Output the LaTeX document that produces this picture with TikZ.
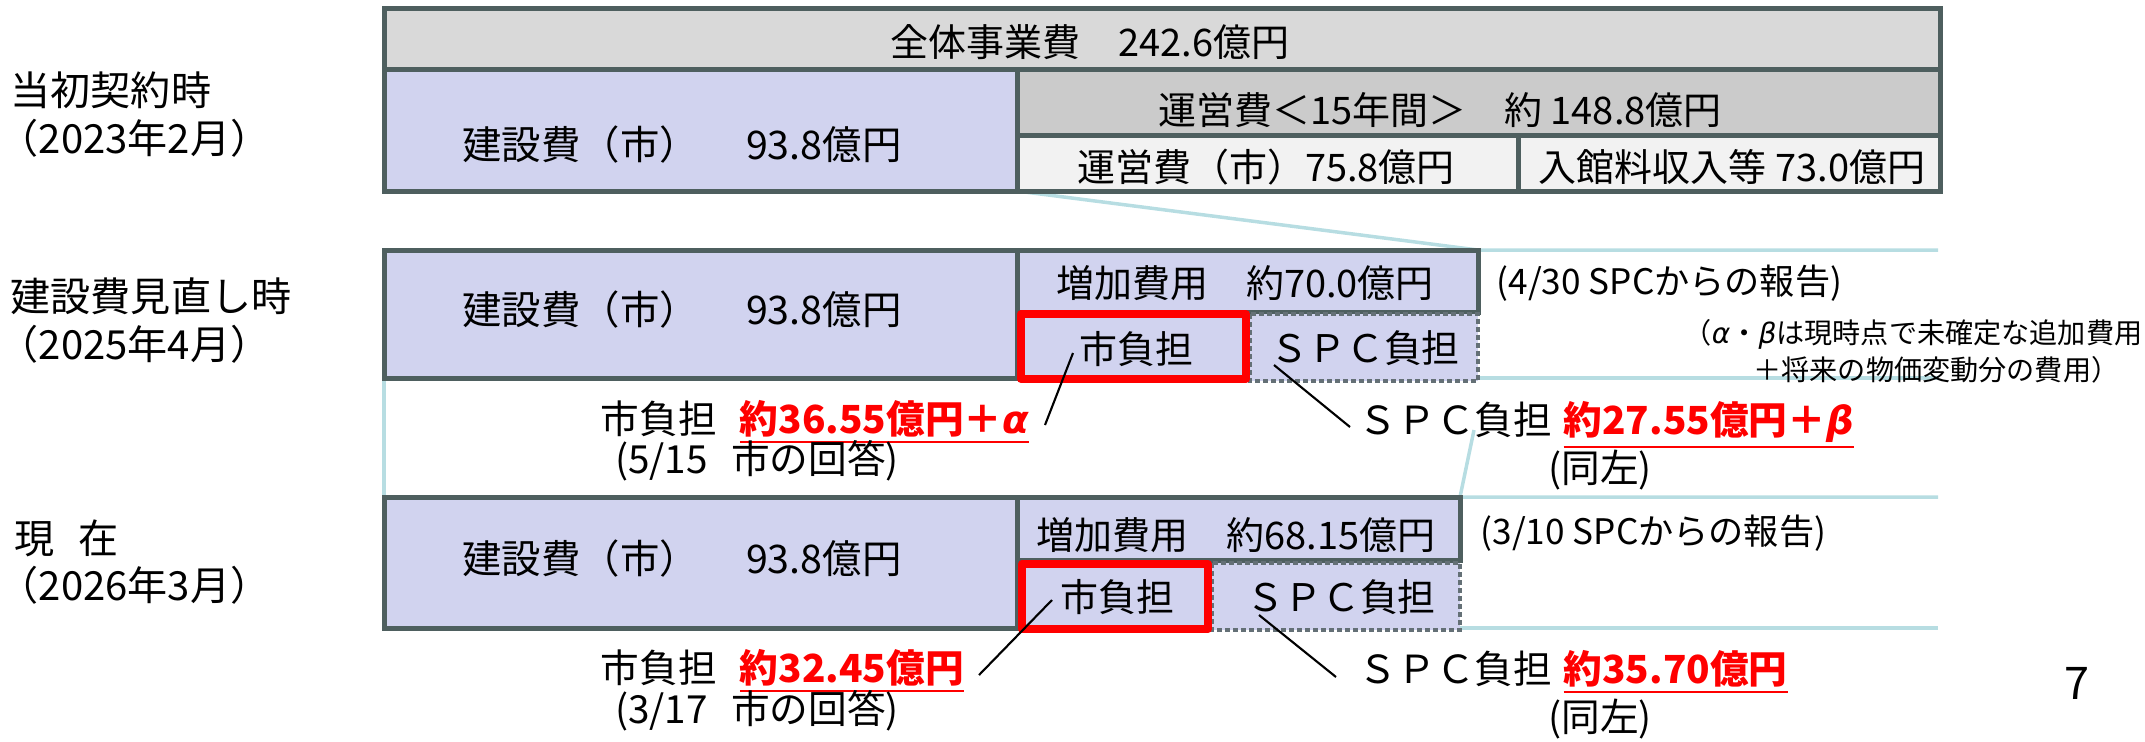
\documentclass[tikz,border=0pt]{standalone}
\usepackage{fontspec}
\setmainfont{Noto Sans CJK JP}
\newfontfamily\grk{DejaVu Sans}
\definecolor{bord}{RGB}{78,95,95}
\definecolor{lav}{RGB}{209,211,239}
\definecolor{gra}{RGB}{217,217,217}
\definecolor{grb}{RGB}{203,203,203}
\definecolor{grc}{RGB}{242,242,242}
\definecolor{cyanl}{RGB}{183,221,226}
\definecolor{dotc}{RGB}{100,112,118}
\newcommand\redamt[1]{{\color{red}\bfseries\underline{#1}}}
\newcommand\galpha{{\grk\itshape α}}
\newcommand\gbeta{{\grk\itshape β}}
\begin{document}
\begin{tikzpicture}[x=0.01cm,y=-0.01cm,
 cell/.style={draw=bord,line width=0.05cm},
 redbox/.style={draw=red,line width=0.08cm,line join=round,fill=lav},
 dotbox/.style={draw=dotc,line width=0.04cm,dash pattern=on 0.05cm off 0.03cm,fill=lav},
 guide/.style={draw=cyanl,line width=0.035cm},
 callout/.style={draw=black,line width=0.6pt},
 txt/.style={inner sep=0pt,font=\fontsize{10.8pt}{13pt}\selectfont},
 big/.style={inner sep=0pt,font=\fontsize{11.2pt}{13pt}\selectfont},
 lbl/.style={inner sep=0pt,anchor=west,font=\fontsize{11.4pt}{13pt}\selectfont},
 amt/.style={inner sep=0pt,anchor=west,font=\fontsize{11pt}{13pt}\selectfont},
 sub/.style={inner sep=0pt,font=\fontsize{11pt}{13pt}\selectfont},
 rpt/.style={inner sep=0pt,anchor=west,font=\fontsize{10pt}{12pt}\selectfont},
 note/.style={inner sep=0pt,anchor=east,font=\fontsize{8pt}{10pt}\selectfont},
 pagenum/.style={inner sep=0pt,font=\fontsize{12.8pt}{14pt}\selectfont}]
\useasboundingbox (0,0) rectangle (2145,741);

% guide lines
\coordinate (g1a) at (1017,191); \coordinate (g1b) at (1478,250);
\coordinate (g2e) at (1938,250);
\coordinate (g3a) at (1478,378); \coordinate (g3e) at (1938,378);
\coordinate (g4a) at (384,381); \coordinate (g4b) at (384,497);
\coordinate (g5a) at (1474,430); \coordinate (g5b) at (1460,497);
\coordinate (g6e) at (1938,497);
\coordinate (g7a) at (1460,628); \coordinate (g7e) at (1938,628);
\draw[guide] (g1a) -- (g1b) -- (g2e);
\draw[guide] (g3a) -- (g3e);
\draw[guide] (g4a) -- (g4b);
\draw[guide] (g5a) -- (g5b) -- (g6e);
\draw[guide] (g7a) -- (g7e);

% block 1
\filldraw[cell,fill=gra] (384,8) rectangle (1940,69);
\filldraw[cell,fill=lav] (384,69) rectangle (1017,191);
\filldraw[cell,fill=grb] (1017,69) rectangle (1940,135);
\filldraw[cell,fill=grc] (1017,135) rectangle (1518,191);
\filldraw[cell,fill=grc] (1518,135) rectangle (1940,191);

% block 2
\filldraw[cell,fill=lav] (384,250) rectangle (1017,378);
\filldraw[cell,fill=lav] (1017,250) rectangle (1478,312);
\filldraw[dotbox] (1250,314) rectangle (1478,381);
\filldraw[redbox] (1021,314) rectangle (1246,379);

% block 3
\filldraw[cell,fill=lav] (384,497) rectangle (1017,628);
\filldraw[cell,fill=lav] (1017,497) rectangle (1460,560);
\filldraw[dotbox] (1212,563) rectangle (1460,630);
\filldraw[redbox] (1022,564) rectangle (1208,629);

% left labels
\node[lbl] (l1a) at (10,90) {当初契約時};
\node[lbl] (l1b) at (-2,138) {（2023年2月）};
\node[lbl] (l2a) at (10,296) {建設費見直し時};
\node[lbl] (l2b) at (-2,344) {（2025年4月）};
\node[lbl] (l3a) at (14,538) {現\hspace{0.6em}在};
\node[lbl] (l3b) at (-2,585) {（2026年3月）};

% block 1 texts
\node[txt] (t11) at (1090,42) {全体事業費　242.6億円};
\node[big] (t12) at (682,145) {建設費（市）\hspace{1.2em}93.8億円};
\node[txt] (t13) at (1440,110) {運営費＜15年間＞　約 148.8億円};
\node[txt] (t14) at (1266,167) {運営費（市）75.8億円};
\node[txt] (t15) at (1732,167) {入館料収入等 73.0億円};

% block 2 texts
\node[big] (t21) at (682,310) {建設費（市）\hspace{1.2em}93.8億円};
\node[txt] (t22) at (1245,283) {増加費用　約70.0億円};
\node[txt] (t23) at (1136,349) {市負担};
\node[txt] (t24) at (1365,348) {ＳＰＣ負担};
\node[rpt] (t25) at (1496,283) {(4/30 SPCからの報告)};
\node[note] (n1) at (2143,334) {（\galpha・\gbeta は現時点で未確定な追加費用};
\node[note] (n2) at (2120,370) {＋将来の物価変動分の費用）};
\node[amt] (a21) at (600,422) {市負担\hspace{0.6em}\redamt{約36.55億円＋\galpha}};
\node[sub] (s21) at (757,461) {(5/15\hspace{0.6em}市の回答)};
\node[amt] (a22) at (1358,425) {ＳＰＣ負担\hspace{0.3em}\redamt{約27.55億円＋\gbeta}};
\node[sub] (s22) at (1600,470) {(同左)};

% block 3 texts
\node[big] (t31) at (682,559) {建設費（市）\hspace{1.2em}93.8億円};
\node[txt] (t32) at (1236,535) {増加費用　約68.15億円};
\node[txt] (t33) at (1117,597) {市負担};
\node[txt] (t34) at (1341,597) {ＳＰＣ負担};
\node[rpt] (t35) at (1480,533) {(3/10 SPCからの報告)};
\node[amt] (a31) at (600,671) {市負担\hspace{0.6em}\redamt{約32.45億円}};
\node[sub] (s31) at (757,711) {(3/17\hspace{0.6em}市の回答)};
\node[amt] (a32) at (1358,672) {ＳＰＣ負担\hspace{0.3em}\redamt{約35.70億円}};
\node[sub] (s32) at (1600,719) {(同左)};

\node[pagenum] (pg) at (2077,683) {7};

% callouts
\coordinate (c2a) at (1073,353); \coordinate (c2b) at (1045,425);
\coordinate (c2c) at (1274,365); \coordinate (c2d) at (1350,427);
\coordinate (c3a) at (1052,600); \coordinate (c3b) at (979,675);
\coordinate (c3c) at (1259,615); \coordinate (c3d) at (1336,677);
\draw[callout] (c2a) -- (c2b);
\draw[callout] (c2c) -- (c2d);
\draw[callout] (c3a) -- (c3b);
\draw[callout] (c3c) -- (c3d);
\end{tikzpicture}
\end{document}
